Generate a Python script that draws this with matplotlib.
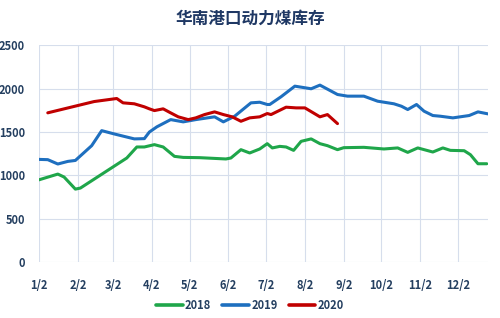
import matplotlib
matplotlib.use("Agg")
import matplotlib.pyplot as plt

plt.rcParams['font.family'] = ['Noto Sans CJK SC', 'DejaVu Sans']

title = "华南港口动力煤库存"
tick_days = [0, 31, 59, 90, 120, 151, 181, 212, 243, 273, 304, 334]
tick_labels = ["1/2", "2/2", "3/2", "4/2", "5/2", "6/2", "7/2", "8/2", "9/2", "10/2", "11/2", "12/2"]
y_ticks = [0, 500, 1000, 1500, 2000, 2500]

# days since Jan 2
days_2018 = [0, 15, 20, 29, 33, 70, 78, 84, 92, 99, 108, 115, 128, 149, 153, 161, 168, 176,
             182, 186, 192, 197, 203, 209, 217, 224, 230, 238, 243, 259, 275, 286, 294, 302,
             314, 322, 328, 339, 344, 350, 357]
vals_2018 = [950, 1016, 982, 843, 855, 1201, 1328, 1328, 1355, 1328, 1220, 1208, 1205, 1190,
             1201, 1297, 1259, 1305, 1366, 1317, 1335, 1328, 1289, 1393, 1421, 1366, 1343, 1297,
             1320, 1324, 1305, 1317, 1266, 1317, 1270, 1317, 1289, 1285, 1239, 1135, 1135]

days_2019 = [0, 7, 15, 23, 29, 42, 50, 60, 76, 84, 88, 94, 105, 115, 125, 140, 147, 156, 169,
             176, 182, 184, 193, 204, 217, 224, 238, 246, 259, 270, 283, 289, 294, 301, 307,
             314, 320, 330, 343, 350, 358]
vals_2019 = [1185, 1182, 1132, 1162, 1173, 1343, 1516, 1478, 1421, 1424, 1500, 1560, 1643, 1617,
             1643, 1675, 1617, 1682, 1836, 1843, 1817, 1817, 1906, 2028, 1998, 2040, 1932, 1913,
             1913, 1855, 1825, 1797, 1759, 1817, 1740, 1690, 1682, 1663, 1690, 1732, 1709]

days_2020 = [7, 44, 62, 67, 76, 84, 88, 92, 99, 104, 111, 119, 125, 132, 140, 147, 154, 161,
             168, 176, 182, 185, 197, 205, 212, 224, 230, 238]
vals_2020 = [1721, 1851, 1886, 1836, 1825, 1790, 1767, 1747, 1767, 1728, 1675, 1643, 1663, 1701,
             1732, 1701, 1675, 1624, 1663, 1675, 1713, 1701, 1786, 1778, 1778, 1675, 1701, 1597]

series = [("2018", days_2018, vals_2018, "#1FA64A"),
          ("2019", days_2019, vals_2019, "#1E6FBF"),
          ("2020", days_2020, vals_2020, "#C00000")]

text_color = "#243F60"

fig = plt.figure(figsize=(5.0, 3.18), dpi=100)
ax = fig.add_axes([0.078, 0.175, 0.898, 0.683])

for name, d, v, c in series:
    ax.plot(d, v, color=c, lw=2.2, label=name, solid_joinstyle='round', solid_capstyle='round')

ax.set_xlim(0, 358)
ax.set_ylim(0, 2500)
ax.set_xticks(tick_days)
ax.set_xticklabels(tick_labels)
ax.set_yticks(y_ticks)
ax.grid(True, color="#D6DEEC", lw=0.8)
ax.set_axisbelow(True)
for s in ax.spines.values():
    s.set_visible(False)
ax.tick_params(length=0, colors=text_color, labelsize=8)
ax.tick_params(axis='x', pad=12)
ax.tick_params(axis='y', pad=10)
for lbl in ax.get_xticklabels() + ax.get_yticklabels():
    lbl.set_fontweight('bold')
    lbl.set_color(text_color)

fig.text(0.5, 0.94, title, ha='center', va='center', fontsize=12, fontweight='bold',
         color="#1F3864")

leg = fig.legend(loc='center', bbox_to_anchor=(0.5, 0.04), ncol=3, frameon=False,
                 handlelength=2.4, columnspacing=1.0, handletextpad=0.2,
                 prop={'size': 8, 'weight': 'bold'})
for t in leg.get_texts():
    t.set_color(text_color)
for l in leg.get_lines():
    l.set_linewidth(2.6)

fig.savefig("out.png", dpi=100, facecolor='white')
